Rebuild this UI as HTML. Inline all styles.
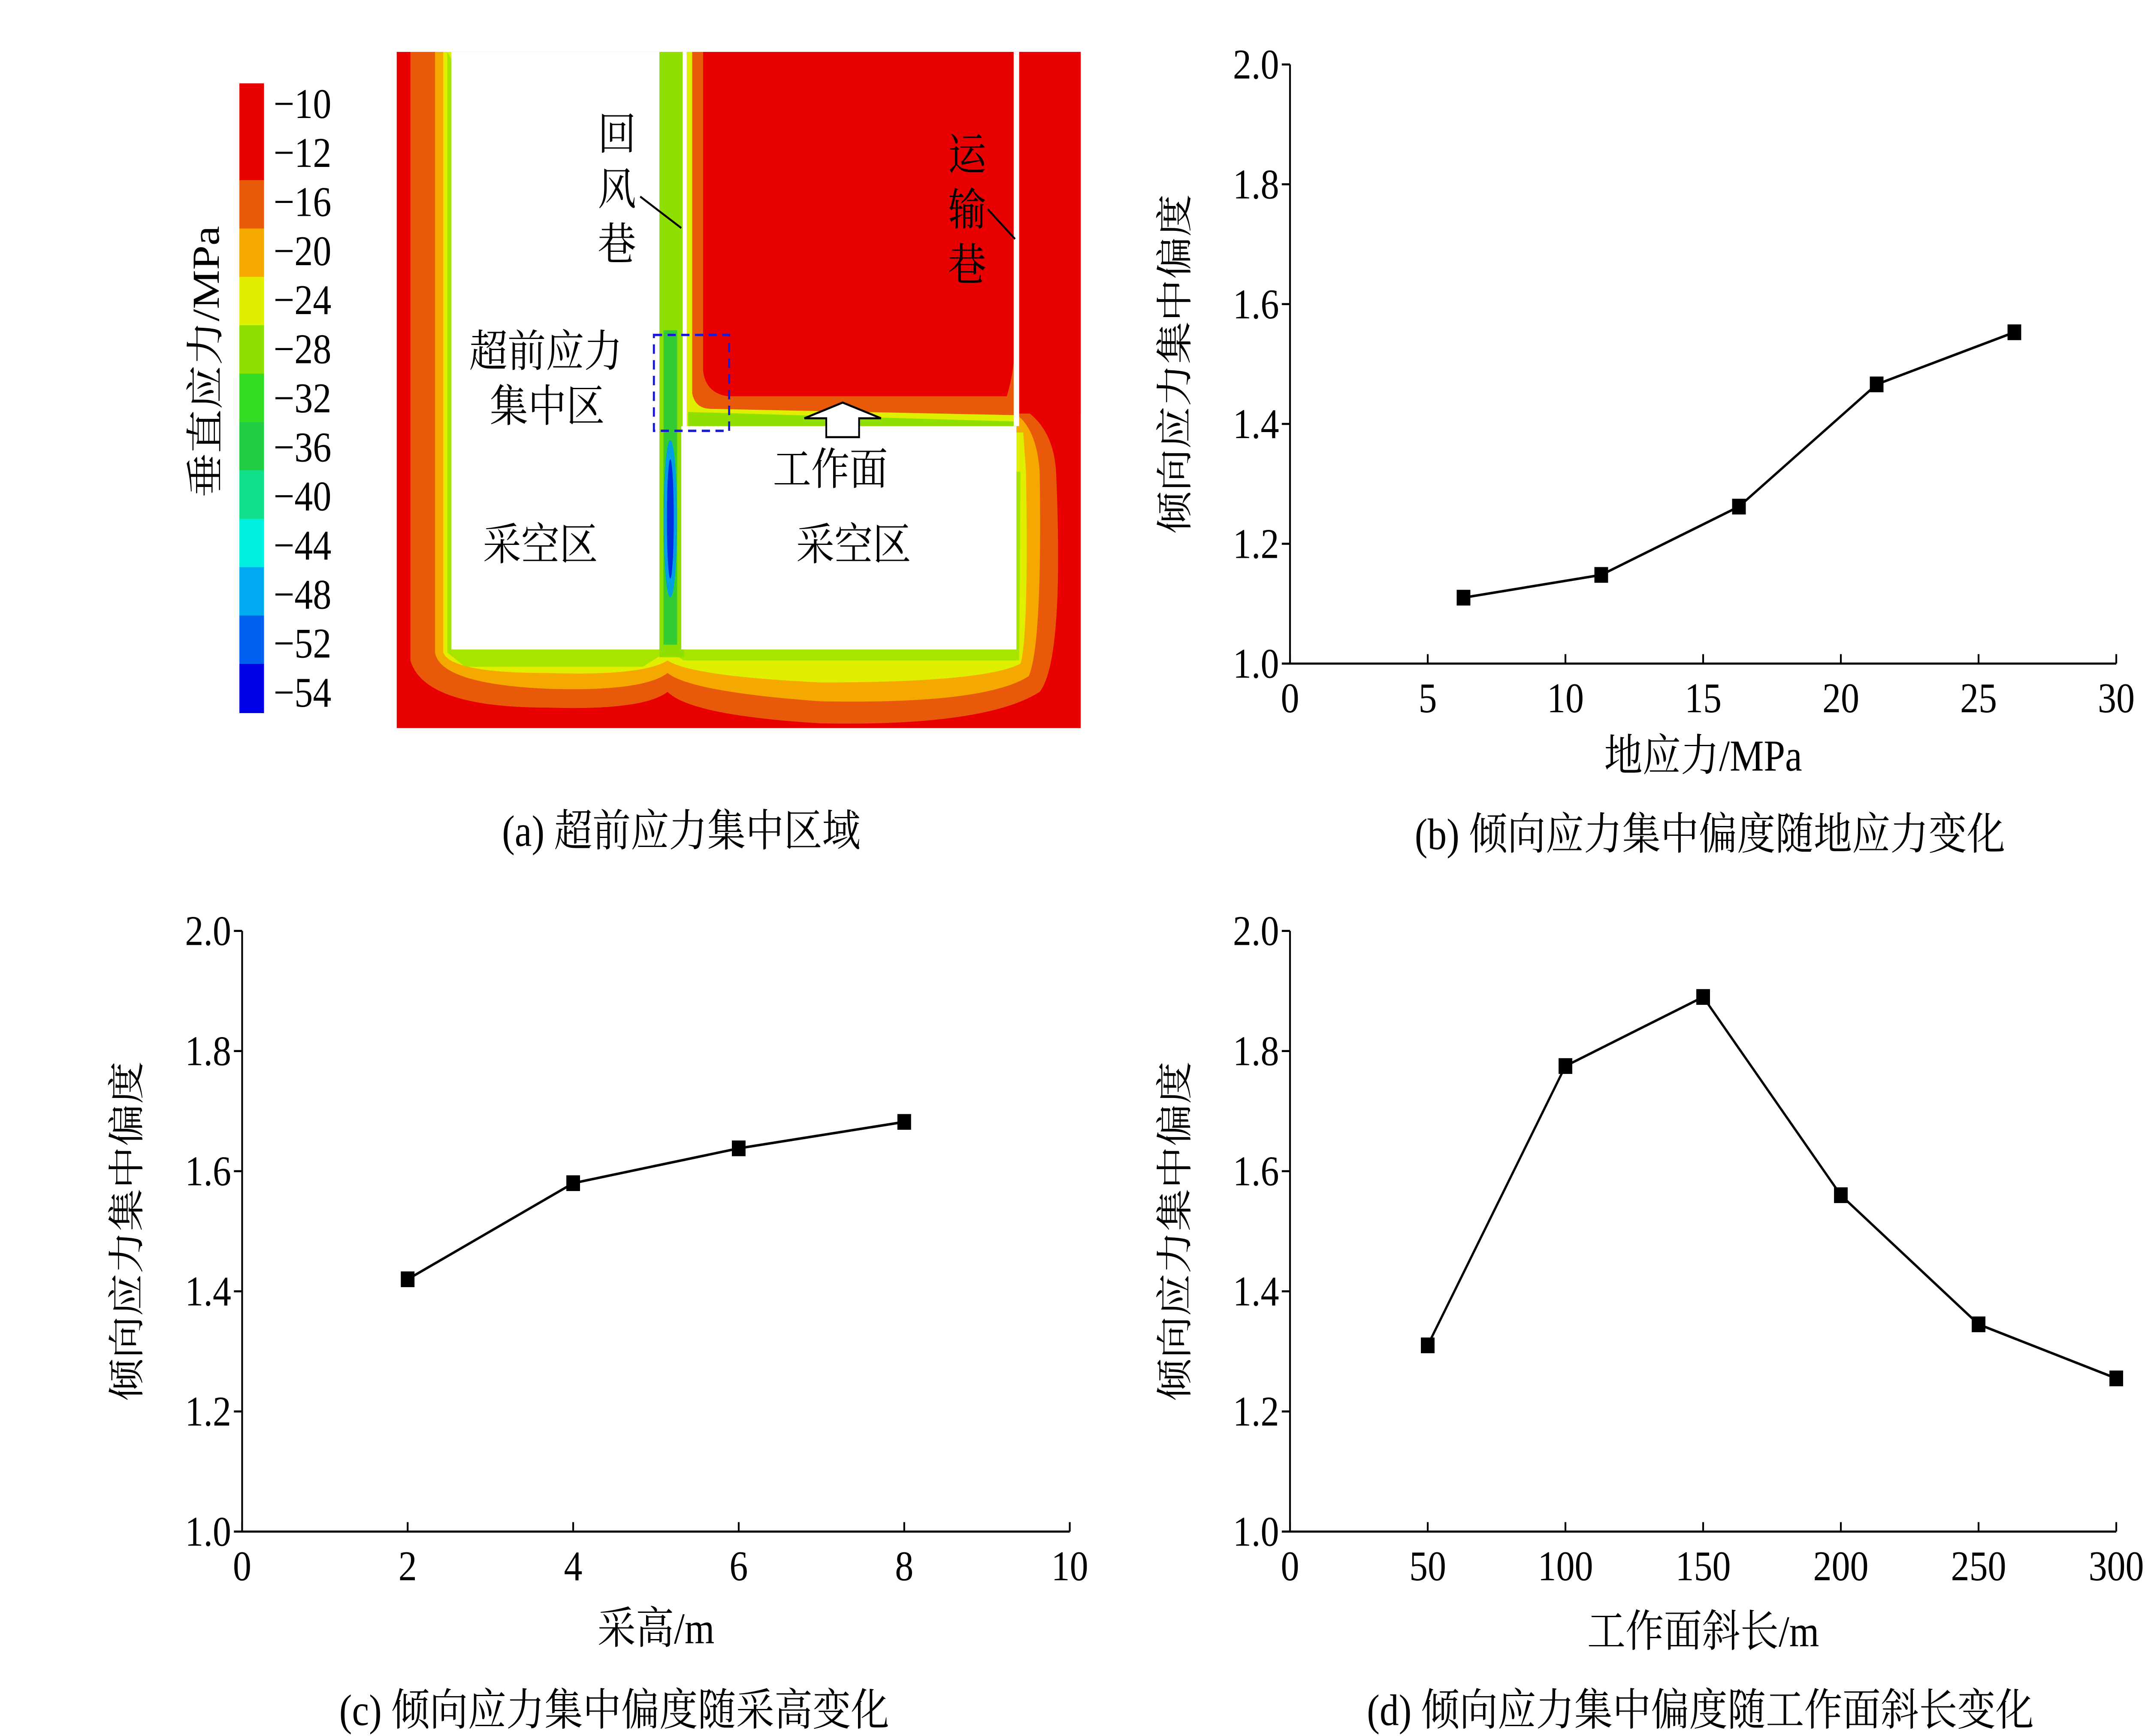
<!DOCTYPE html>
<html><head><meta charset="utf-8"><style>
html,body{margin:0;padding:0;background:#fff;width:100%;height:100%;overflow:hidden;}
svg{display:block;width:100vw;height:100vh;}
text{font-family:"Liberation Serif","Noto Serif CJK SC","Noto Sans CJK SC",serif;fill:#000;}
</style></head><body>
<svg id="root" viewBox="0 0 1568 1104" preserveAspectRatio="none" xmlns="http://www.w3.org/2000/svg">
<rect width="1568" height="1104" fill="#fff"/>
<g>
  <rect x="290" y="33" width="500" height="430" fill="#e80000"/>
  <path d="M300,33 L300,420 Q310,450 400,450 Q470,452 488,440 Q505,455 600,460 Q720,462 760,440 Q778,420 772,300 Q770,272 748,260 L746,33 Z" fill="#e85a0a"/>
  <path d="M318,33 L318,415 Q322,435 400,438 Q470,440 488,428 Q505,440 600,446 Q720,448 752,430 Q762,410 760,300 Q758,275 745,265 L745,270 L498,270 L498,33 Z" fill="#f5a800"/>
  <path d="M324,33 L324,415 Q330,428 400,428 Q470,430 488,420 Q505,430 600,434 Q720,434 746,422 Q752,405 750,300 L748,275 L498,275 L498,33 Z" fill="#e0ef00"/>
  <path d="M327,33 L327,415 L340,424 L470,424 L488,414 L500,420 L745,420 L746,300 L498,300 Z" fill="#8fe000" opacity="0.7"/>
  <rect x="482" y="33" width="18" height="385" fill="#8fe000"/>
  <rect x="485" y="210" width="10" height="200" fill="#33cc33"/>
  <ellipse cx="490" cy="330" rx="5" ry="50" fill="#00a0e0"/>
  <ellipse cx="490" cy="330" rx="2.5" ry="38" fill="#0030e0"/>
  <!-- upper-right region: red core with thin bands -->
  <rect x="502" y="33" width="239" height="238" fill="#e0ef00"/>
  <path d="M503,33 L503,262 L741,268 L741,271 L503,271 Z" fill="#8fe000"/>
  <path d="M506,33 L506,250 Q508,260 520,260 L741,264 L741,33 Z" fill="#e85a0a"/>
  <path d="M514,33 L514,236 Q516,250 532,252 L736,252 Q740,240 741,230 L741,33 Z" fill="#e80000"/>
  <rect x="741" y="33" width="49" height="230" fill="#e80000"/>
  <!-- white voids -->
  <rect x="330" y="33" width="152" height="380" fill="#fff"/>
  <rect x="498" y="271" width="245" height="142" fill="#fff"/>
  <rect x="499" y="33" width="3" height="238" fill="#fff"/>
  <rect x="741" y="33" width="4" height="238" fill="#fff"/>
  <g font-size="28">
    <text x="437" y="95">回</text>
    <text x="437" y="130">风</text>
    <text x="437" y="165">巷</text>
    <line x1="468" y1="125" x2="498" y2="145" stroke="#000" stroke-width="1.3"/>
    <text x="693" y="108">运</text>
    <text x="693" y="143">输</text>
    <text x="693" y="178">巷</text>
    <line x1="722" y1="133" x2="742" y2="152" stroke="#000" stroke-width="1.3"/>
    <text x="343" y="233">超前应力</text>
    <text x="358" y="268">集中区</text>
    <text x="565" y="308">工作面</text>
    <text x="353" y="356">采空区</text>
    <text x="582" y="356">采空区</text>
  </g>
  <path d="M588,266 L616,256 L644,266 L628,266 L628,278 L604,278 L604,266 Z" fill="#fff" stroke="#000" stroke-width="1.3"/>
  <rect x="478" y="213" width="55" height="61" fill="none" stroke="#1a1ad0" stroke-width="1.5" stroke-dasharray="6,4"/>
</g>
<g id="colorbar"></g>
<text x="160" y="230" font-size="28" transform="rotate(-90 160 230)" text-anchor="middle">垂直应力/MPa</text>
<text x="498" y="538" font-size="28" text-anchor="middle">(a)  超前应力集中区域</text>
<g id="charts"></g>
</svg>
<script>
const cbLabels=["−10","−12","−16","−20","−24","−28","−32","−36","−40","−44","−48","−52","−54"];
const cbColors=["#e80000","#e80000","#e85a0a","#f5a800","#e0ef00","#8fe000","#33dd22","#22cc44","#11e08a","#00f0e0","#00aaf0","#0060f0","#0000e8"];
const NS="http://www.w3.org/2000/svg";
function mk(tag,attrs,parent){const e=document.createElementNS(NS,tag);for(const k in attrs)e.setAttribute(k,attrs[k]);parent.appendChild(e);return e;}
const cb=document.getElementById('colorbar');
const segH=400/cbColors.length;
cbColors.forEach((c,i)=>{const r=mk('rect',{x:175,y:53+i*segH,width:18,height:segH+0.5,fill:c},cb);

});
cbLabels.forEach((l,i)=>{const t=mk('text',{x:200,y:75+i*31.2,'font-size':27},cb);t.textContent=l;

});

const bX=[6.3,11.3,16.3,21.3,26.3];
const bY=[1.11,1.148,1.262,1.466,1.553];
const bXTicks=[0,5,10,15,20,25,30];
const cX=[2,4,6,8];
const cY=[1.42,1.58,1.638,1.682];
const cXTicks=[0,2,4,6,8,10];
const dX=[50,100,150,200,250,300];
const dY=[1.31,1.775,1.89,1.56,1.345,1.255];
const dXTicks=[0,50,100,150,200,250,300];
const yTicks=[1.0,1.2,1.4,1.6,1.8,2.0];

const charts=document.getElementById('charts');
function chart(id,x0,x1,yb,yt,xmax,xs,ys,xticks,xtitle,caption,capX,capY,xtY){
  const g=mk('g',{},charts);
  
  
  const sx=v=>x0+(x1-x0)*v/xmax, sy=v=>yb-(yb-yt)*(v-1)/1;
  const ax=mk('path',{d:`M${x0},${yt} L${x0},${yb} L${x1},${yb}`,fill:'none',stroke:'#000','stroke-width':1.3},g);
  
  
  yTicks.forEach(v=>{mk('line',{x1:x0-6,x2:x0,y1:sy(v),y2:sy(v),stroke:'#000','stroke-width':1.3},g);
    const t=mk('text',{x:x0-8,y:sy(v)+9,'font-size':27,'text-anchor':'end'},g);t.textContent=v.toFixed(1);
    
    });
  xticks.forEach(v=>{mk('line',{x1:sx(v),x2:sx(v),y1:yb,y2:yb-6,stroke:'#000','stroke-width':1.3},g);
    const t=mk('text',{x:sx(v),y:yb+31,'font-size':27,'text-anchor':'middle'},g);t.textContent=v;
    
    });
  const ln=mk('polyline',{points:xs.map((v,i)=>sx(v)+','+sy(ys[i])).join(' '),fill:'none',stroke:'#000','stroke-width':1.6},g);
  
  
  xs.forEach((v,i)=>{const m=mk('rect',{x:sx(v)-5,y:sy(ys[i])-5,width:10,height:10,fill:'#000'},g);
    
    });
  const yl=(x0-75), ym=(yb+yt)/2;
  const yt_=mk('text',{x:yl,y:ym,'font-size':27,'text-anchor':'middle',transform:`rotate(-90 ${yl} ${ym})`},g);yt_.textContent='倾向应力集中偏度';
  
  
  const xt=mk('text',{x:(x0+x1)/2,y:xtY,'font-size':28,'text-anchor':'middle'},g);xt.textContent=xtitle;
  
  
  const cp=mk('text',{x:capX,y:capY,'font-size':28,'text-anchor':'middle'},g);cp.textContent=caption;
  
  
}
chart('chart-b',943,1547,422,41,30,bX,bY,bXTicks,'地应力/MPa','(b) 倾向应力集中偏度随地应力变化',1250,540,490);
chart('chart-c',177,782,974,592,10,cX,cY,cXTicks,'采高/m','(c) 倾向应力集中偏度随采高变化',449,1097,1045);
chart('chart-d',943,1547,974,592,300,dX,dY,dXTicks,'工作面斜长/m','(d) 倾向应力集中偏度随工作面斜长变化',1243,1097,1047);
</script>
</body></html>
